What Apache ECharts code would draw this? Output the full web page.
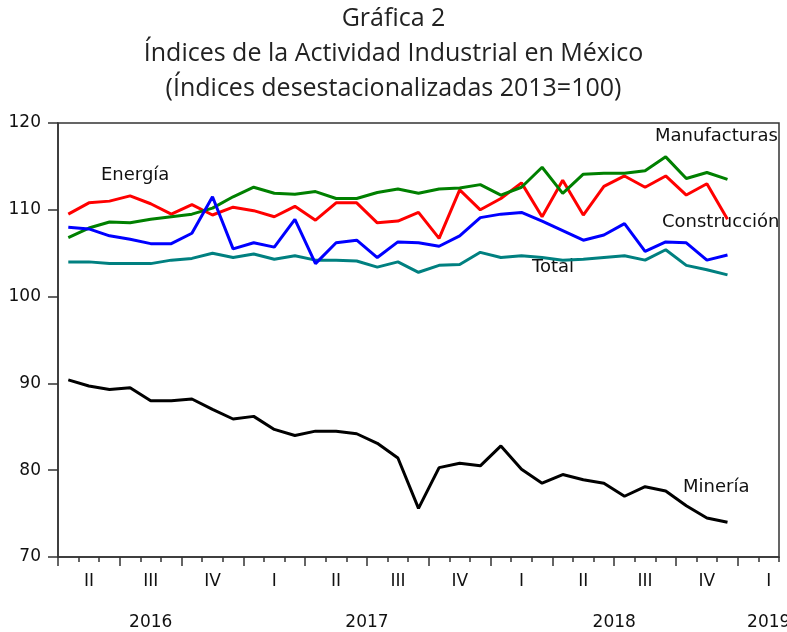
<!DOCTYPE html>
<html>
<head>
<meta charset="utf-8">
<script src="https://cdn.jsdelivr.net/npm/echarts@6/dist/echarts.min.js"></script>
<style>
  html, body { margin: 0; padding: 0; background: #fff; }
  #chart { width: 787px; height: 632px; }
</style>
</head>
<body>
<div id="chart"></div>
<script>
// meses del eje (abr 2016 - feb 2019)
var months = [
  '2016-04', '2016-05', '2016-06', '2016-07', '2016-08', '2016-09', '2016-10', '2016-11', '2016-12',
  '2017-01', '2017-02', '2017-03', '2017-04', '2017-05', '2017-06', '2017-07', '2017-08', '2017-09',
  '2017-10', '2017-11', '2017-12', '2018-01', '2018-02', '2018-03', '2018-04', '2018-05', '2018-06',
  '2018-07', '2018-08', '2018-09', '2018-10', '2018-11', '2018-12', '2019-01', '2019-02'
];
var quarterLabels = ['II', 'III', 'IV', 'I', 'II', 'III', 'IV', 'I', 'II', 'III', 'IV', 'I'];
var yearLabels = ['2016', '2017', '2018', '2019'];
var yearFirstMonth = ['2016-04', '2017-01', '2018-01', '2019-01'];
var yTicks = [70, 80, 90, 100, 110, 120];

var energia = [109.5, 110.8, 111.0, 111.6, 110.7, 109.5, 110.6, 109.4, 110.3, 109.9,
  109.2, 110.4, 108.8, 110.8, 110.8, 108.5, 108.7, 109.7, 106.7, 112.3,
  110.0, 111.3, 113.1, 109.2, 113.4, 109.4, 112.7, 113.9, 112.6, 113.9,
  111.7, 113.0, 108.9];
var manufacturas = [106.8, 107.9, 108.6, 108.5, 108.9, 109.2, 109.5, 110.2, 111.5, 112.6,
  111.9, 111.8, 112.1, 111.3, 111.3, 112.0, 112.4, 111.9, 112.4, 112.5,
  112.9, 111.7, 112.6, 114.9, 111.9, 114.1, 114.2, 114.2, 114.5, 116.1,
  113.6, 114.3, 113.5];
var construccion = [108.0, 107.8, 107.0, 106.6, 106.1, 106.1, 107.3, 111.5, 105.5, 106.2,
  105.7, 108.9, 103.8, 106.2, 106.5, 104.5, 106.3, 106.2, 105.8, 107.0,
  109.1, 109.5, 109.7, 108.7, 107.6, 106.5, 107.1, 108.4, 105.2, 106.3,
  106.2, 104.2, 104.8];
var total = [104.0, 104.0, 103.8, 103.8, 103.8, 104.2, 104.4, 105.0, 104.5, 104.9,
  104.3, 104.7, 104.2, 104.2, 104.1, 103.4, 104.0, 102.8, 103.6, 103.7,
  105.1, 104.5, 104.7, 104.5, 104.2, 104.3, 104.5, 104.7, 104.2, 105.4,
  103.6, 103.1, 102.5];
var mineria = [90.4, 89.7, 89.3, 89.5, 88.0, 88.0, 88.2, 87.0, 85.9, 86.2,
  84.7, 84.0, 84.5, 84.5, 84.2, 83.1, 81.4, 75.6, 80.3, 80.8,
  80.5, 82.8, 80.1, 78.5, 79.5, 78.9, 78.5, 77.0, 78.1, 77.6,
  75.9, 74.5, 74.0];

// posiciones en el eje: cada mes ocupa una unidad, el punto va al centro
function toPoints(arr) {
  return arr.map(function (v, i) { return [i + 0.5, v]; });
}
var monthTicks = months.map(function (m, i) { return i; }).concat([months.length]);
var quarterTicks = monthTicks.filter(function (t) { return t % 3 === 0; });
var quarterPos = quarterLabels.map(function (q, k) { return 3 * k + 1.5; });
var yearPos = yearFirstMonth.map(function (m, k) {
  var a = months.indexOf(m);
  var b = k + 1 < yearFirstMonth.length ? months.indexOf(yearFirstMonth[k + 1]) : a + 3;
  return (a + b) / 2;
});

var axisColor = '#333';
var textFont = 'DejaVu Sans';

var chart = echarts.init(document.getElementById('chart'));
chart.setOption({
  animation: false,
  backgroundColor: '#fff',
  title: {
    text: 'Gráfica 2\nÍndices de la Actividad Industrial en México\n(Índices desestacionalizadas 2013=100)',
    left: 'center',
    top: 1,
    padding: 0,
    textStyle: {
      fontFamily: 'Open Sans',
      fontSize: 25,
      fontWeight: 'normal',
      lineHeight: 35,
      color: '#222'
    }
  },
  grid: {
    left: 58, right: 8, top: 123, bottom: 75,
    outerBoundsMode: 'none',
    show: true, borderColor: axisColor, borderWidth: 1.5
  },
  xAxis: [
    {
      type: 'value', min: 0, max: months.length, position: 'bottom',
      axisLine: { show: true, onZero: false, lineStyle: { color: axisColor, width: 1.5 } },
      axisTick: { show: true, customValues: monthTicks, length: 5, lineStyle: { color: axisColor, width: 1.5 } },
      axisLabel: {
        customValues: quarterPos, margin: 16,
        fontFamily: textFont, fontSize: 17, color: '#111',
        formatter: function (v) { return quarterLabels[quarterPos.indexOf(v)] || ''; }
      },
      splitLine: { show: false }
    },
    {
      type: 'value', min: 0, max: months.length, position: 'bottom',
      axisLine: { show: false, onZero: false },
      axisTick: { show: true, customValues: quarterTicks, length: 9, lineStyle: { color: axisColor, width: 1.5 } },
      axisLabel: {
        customValues: yearPos, margin: 57,
        fontFamily: textFont, fontSize: 17, color: '#111',
        formatter: function (v) { return yearLabels[yearPos.indexOf(v)] || ''; }
      },
      splitLine: { show: false }
    }
  ],
  yAxis: {
    type: 'value', min: yTicks[0], max: yTicks[yTicks.length - 1], interval: 10,
    axisLine: { show: true, onZero: false, lineStyle: { color: axisColor, width: 1.5 } },
    axisTick: { show: true, length: 10, lineStyle: { color: axisColor, width: 1.5 } },
    axisLabel: { margin: 17, fontFamily: textFont, fontSize: 17, color: '#111', padding: [0, 0, 8, 0] },
    splitLine: { show: false }
  },
  series: [
    { name: 'Total', type: 'line', data: toPoints(total), showSymbol: false, symbol: 'none',
      lineStyle: { color: '#008080', width: 3 } },
    { name: 'Energía', type: 'line', data: toPoints(energia), showSymbol: false, symbol: 'none',
      lineStyle: { color: '#ff0000', width: 3 } },
    { name: 'Manufacturas', type: 'line', data: toPoints(manufacturas), showSymbol: false, symbol: 'none',
      lineStyle: { color: '#008000', width: 3 } },
    { name: 'Construcción', type: 'line', data: toPoints(construccion), showSymbol: false, symbol: 'none',
      lineStyle: { color: '#0000ff', width: 3 } },
    { name: 'Minería', type: 'line', data: toPoints(mineria), showSymbol: false, symbol: 'none',
      lineStyle: { color: '#000000', width: 3 } }
  ],
  // etiquetas de cada serie
  graphic: [
    { type: 'text', left: 101, top: 166, style: { text: 'Energía', font: '18px "DejaVu Sans"', fill: '#111' } },
    { type: 'text', left: 655, top: 127, style: { text: 'Manufacturas', font: '18px "DejaVu Sans"', fill: '#111' } },
    { type: 'text', left: 662, top: 213, style: { text: 'Construcción', font: '18px "DejaVu Sans"', fill: '#111' } },
    { type: 'text', left: 532, top: 258, style: { text: 'Total', font: '18px "DejaVu Sans"', fill: '#111' } },
    { type: 'text', left: 683, top: 478, style: { text: 'Minería', font: '18px "DejaVu Sans"', fill: '#111' } }
  ]
});
</script>
</body>
</html>
